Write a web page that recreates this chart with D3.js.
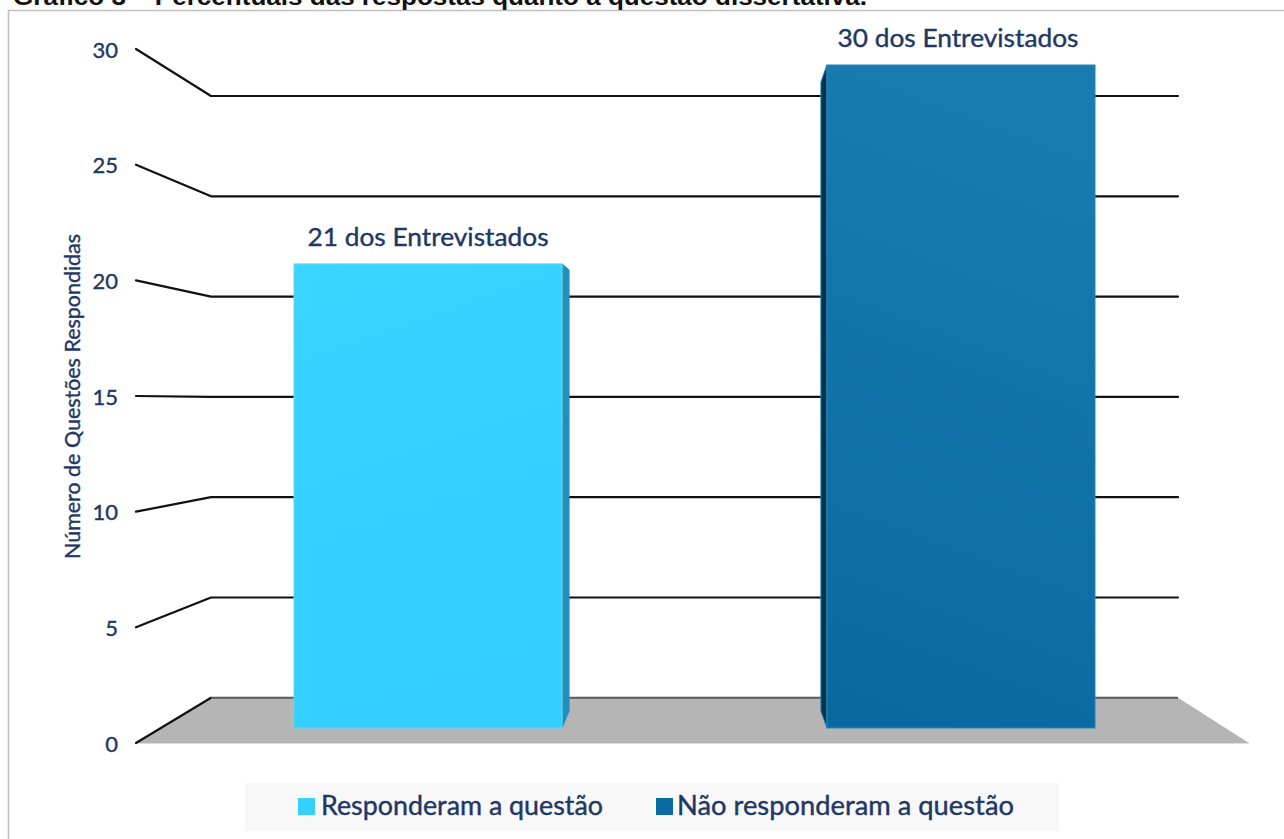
<!DOCTYPE html>
<html><head><meta charset="utf-8">
<script src="https://cdnjs.cloudflare.com/ajax/libs/d3/7.8.5/d3.min.js"></script>
<style>html,body{margin:0;padding:0;background:#fff;overflow:hidden}svg{display:block}text{font-family:Lato,sans-serif;fill:#1f3864;stroke:#1f3864;stroke-width:.4px}</style>
</head><body><div id="c"></div>
<script>
const titleText = "Gráfico 3 – Percentuais das respostas quanto à questão dissertativa.";
const categories = ["Responderam a questão", "Não responderam a questão"];
const values = [21, 30];
const barLabels = ["21 dos Entrevistados", "30 dos Entrevistados"];
const ticks = [0, 5, 10, 15, 20, 25, 30];
const yTitle = "Número de Questões Respondidas";
const palette = ["#36d0ff", "#0a6ca3"];

const W = 1284, H = 839;
const svg = d3.select("#c").append("svg").attr("width", W).attr("height", H);
const defs = svg.append("defs");
const g1 = defs.append("linearGradient").attr("id","g0").attr("x1",0).attr("y1",0).attr("x2",0.2).attr("y2",1);
g1.append("stop").attr("offset",0).attr("stop-color","#3ad4ff");
g1.append("stop").attr("offset",1).attr("stop-color","#33cdff");
const g2 = defs.append("linearGradient").attr("id","g1").attr("x1",0.15).attr("y1",0).attr("x2",0).attr("y2",1);
g2.append("stop").attr("offset",0).attr("stop-color","#187cb0");
g2.append("stop").attr("offset",1).attr("stop-color","#0869a0");

// frame and clipped caption
svg.append("path").attr("d","M8.5,839V10.5H1284").attr("fill","none").attr("stroke","#c0c0c0").attr("stroke-width",1.5);
svg.append("text").attr("x",13).attr("y",5).attr("textLength",854).attr("lengthAdjust","spacingAndGlyphs")
  .style("font-family","'Liberation Sans',sans-serif").style("fill","#111").style("stroke","none").style("font-size","23px").style("font-weight","700").text(titleText);

const xFront = 136, xBack = 211, xRight = 1178, xFloorRight = 1249;
const yFront = d3.scaleLinear().domain([0,30]).range([743,49]);
const yBack  = d3.scaleLinear().domain([0,30]).range([697.8,96]);
const yBar   = d3.scaleLinear().domain([0,30]).range([728,65]);
const x = d3.scaleBand().domain(categories).range([294,1095]).paddingInner(0.497).paddingOuter(0);

// floor
svg.append("path").attr("fill","#b5b5b5")
  .attr("d",d3.line()([[xFront,yFront(0)],[xBack,yBack(0)],[xRight,yBack(0)],[xFloorRight,yFront(0)]])+"Z");
svg.append("line").attr("x1",xFront).attr("x2",xFloorRight).attr("y1",yFront(0)+0.5).attr("y2",yFront(0)+0.5).attr("stroke","#ddd");

// gridlines
svg.append("g").selectAll("path").data(ticks).join("path")
  .attr("fill","none").attr("stroke-linejoin","round").attr("stroke-linecap","round")
  .attr("stroke","#111").attr("stroke-width",2.2)
  .attr("d",d=>d===0
     ? d3.line()([[xFront,yFront(0)],[xBack,yBack(0)]])
     : d3.line()([[xFront,yFront(d)],[xBack,yBack(d)],[xRight,yBack(d)]]));
svg.append("line").attr("x1",xBack).attr("x2",xRight).attr("y1",yBack(0)).attr("y2",yBack(0)).attr("stroke","#5a5a5a").attr("stroke-width",2);

// tick labels
const axis = d3.axisLeft(yFront).tickValues(ticks).tickSize(0).tickPadding(0);
const ag = svg.append("g").attr("transform","translate(118,1)").call(axis);
ag.select(".domain").remove();
ag.selectAll("text").style("font-size","22px").style("font-family","Lato,sans-serif").attr("fill","#1f3864");

// axis title
svg.append("text").attr("transform","translate(80,396.5) rotate(-90)").attr("text-anchor","middle")
  .attr("textLength",325).attr("lengthAdjust","spacingAndGlyphs").style("font-size","22px").text(yTitle);

// bars
const bars = svg.append("g").selectAll("g").data(values).join("g");
bars.append("path").attr("fill",(d,i)=>i===0?"#2191bb":"#03334e").attr("stroke",(d,i)=>i===0?"#2191bb":"#1a7eb2").attr("stroke-width",1)
  .attr("d",(d,i)=>{
    const c = categories[i], side = i===0 ? x(c)+x.bandwidth() : x(c), dx = i===0 ? 7 : -6;
    return d3.line()([[side,yBar(d)],[side+dx,yBar(d)+(i===0?6:17)],[side+dx,711],[side,yBar(0)]])+"Z";
  });
bars.append("rect").attr("x",(d,i)=>x(categories[i])).attr("width",x.bandwidth())
  .attr("y",d=>yBar(d)).attr("height",d=>yBar(0)-yBar(d))
  .attr("fill",(d,i)=>`url(#g${i})`).attr("stroke",(d,i)=>i===0?"#5cdcff":"#2a86b5").attr("stroke-width",1);

// bar labels
bars.append("text").attr("x",(d,i)=>x(categories[i])+x.bandwidth()/2-(i===0?0:3)).attr("y",d=>yBar(d)-18)
  .attr("text-anchor","middle").attr("textLength",241).attr("lengthAdjust","spacingAndGlyphs")
  .style("font-size","25px").text((d,i)=>barLabels[i]);

// legend
svg.append("rect").attr("x",245).attr("y",783).attr("width",814).attr("height",48).attr("fill","#f8f8f8");
const legX = [298,656], legTx=[321,677], legW=[282,337];
const lg = svg.append("g").selectAll("g").data(categories).join("g");
lg.append("rect").attr("x",(d,i)=>legX[i]).attr("y",798).attr("width",17).attr("height",17).attr("fill",(d,i)=>palette[i]);
lg.append("text").attr("x",(d,i)=>legTx[i]).attr("y",815).attr("textLength",(d,i)=>legW[i]).attr("lengthAdjust","spacingAndGlyphs")
  .style("font-size","26px").text(d=>d);
</script></body></html>
